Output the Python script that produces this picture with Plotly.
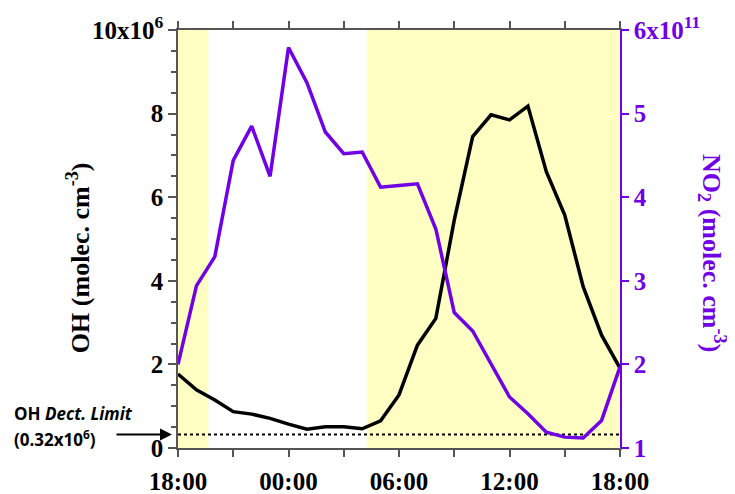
import plotly.graph_objects as go

# Hours since 18:00 (hourly data over 24 h)
hours = list(range(25))
oh = [1.77, 1.39, 1.15, 0.87, 0.81, 0.71, 0.57, 0.45, 0.51, 0.51, 0.46, 0.65,
      1.27, 2.46, 3.10, 5.45, 7.45, 7.97, 7.85, 8.18, 6.61, 5.57, 3.86, 2.70, 1.91]
no2 = [2.00, 2.94, 3.29, 4.44, 4.85, 4.25, 5.79, 5.37, 4.78, 4.52, 4.54, 4.12,
       4.14, 4.16, 3.62, 2.62, 2.40, 2.00, 1.61, 1.41, 1.19, 1.13, 1.12, 1.33, 1.97]
oh_limit = 0.32
daylight = [(0, 1.65), (10.25, 24)]

x_tickvals = [0, 3, 6, 9, 12, 15, 18, 21, 24]
x_ticktext = ["18:00", " ", "00:00", " ", "06:00", " ", "12:00", " ", "18:00"]
y1_tickvals = [0, 2, 4, 6, 8, 10]
y1_ticktext = ["0", "2", "4", "6", "8", "10x10<sup>6</sup>"]
y2_tickvals = [1, 2, 3, 4, 5, 6]
y2_ticktext = ["1", "2", "3", "4", "5", "6x10<sup>11</sup>"]

PURPLE = "#7100E6"
SERIF = "Liberation Serif"
AX = "#555555"


def b(s):
    return "<b>" + s + "</b>"


fig = go.Figure()
fig.add_trace(go.Scatter(x=[0, 24], y=[oh_limit, oh_limit], mode="lines",
                         line=dict(color="black", width=2, dash="dot"), showlegend=False))
fig.add_trace(go.Scatter(x=hours, y=oh, mode="lines",
                         line=dict(color="black", width=3.5), showlegend=False))
fig.add_trace(go.Scatter(x=hours, y=no2, mode="lines", yaxis="y2",
                         line=dict(color=PURPLE, width=3.5), showlegend=False))

for x0, x1 in daylight:
    fig.add_shape(type="rect", xref="x", yref="paper", x0=x0, x1=x1, y0=0, y1=1,
                  fillcolor="#FFFFC4", line=dict(width=0), layer="below")

tickfont = dict(family=SERIF, size=25, color="black")
fig.update_layout(
    width=735, height=494,
    margin=dict(l=170, r=123, t=22, b=54),
    plot_bgcolor="white", paper_bgcolor="white",
    xaxis=dict(range=[0, 24], tickvals=x_tickvals, ticktext=[b(t) for t in x_ticktext],
               ticks="outside", ticklen=7, tickwidth=1.5, tickcolor=AX,
               showline=True, linecolor=AX, linewidth=1.5, mirror="ticks",
               showgrid=False, zeroline=False, tickfont=tickfont,
               ticklabelstandoff=3, automargin=False),
    yaxis=dict(range=[0, 10], tickvals=y1_tickvals, ticktext=[b(t) for t in y1_ticktext],
               ticks="outside", ticklen=8, tickwidth=1.5, tickcolor=AX,
               minor=dict(dtick=0.5, ticks="outside", ticklen=5, tickcolor=AX, tickwidth=1.5),
               showline=True, linecolor=AX, linewidth=1.5,
               showgrid=False, zeroline=False, tickfont=tickfont, automargin=False),
    yaxis2=dict(range=[1, 6], tickvals=y2_tickvals, ticktext=[b(t) for t in y2_ticktext],
                overlaying="y", side="right",
                ticks="outside", ticklen=7, tickwidth=1.5, tickcolor=PURPLE,
                showline=True, linecolor=PURPLE, linewidth=1.5,
                showgrid=False, zeroline=False, automargin=False,
                tickfont=dict(family=SERIF, size=25, color=PURPLE)),
)

fig.add_annotation(text=b("OH (molec. cm<sup>-3</sup>)"), xref="paper", yref="paper",
                   x=-0.226, y=0.4545, textangle=-90, showarrow=False,
                   xanchor="center", yanchor="middle",
                   font=dict(family=SERIF, size=26, color="black"))
fig.add_annotation(text=b("NO<sub>2</sub> (molec. cm<sup>-3</sup>)"), xref="paper", yref="paper",
                   x=1.208, y=0.4665, textangle=90, showarrow=False,
                   xanchor="center", yanchor="middle",
                   font=dict(family=SERIF, size=26, color=PURPLE))

fig.add_annotation(text=b("OH <i>Dect. Limit</i>"), xref="paper", yref="paper",
                   x=-0.3756, y=0.0837, xanchor="left", yanchor="middle", showarrow=False,
                   font=dict(family="Open Sans", size=17, color="black"))
fig.add_annotation(text=b("(0.32x10<sup>6</sup>)"), xref="paper", yref="paper",
                   x=-0.3756, y=0.0239, xanchor="left", yanchor="middle", showarrow=False,
                   font=dict(family="Open Sans", size=17, color="black"))
fig.add_annotation(text="", xref="paper", yref="y", x=-0.0136, y=oh_limit,
                   ax=-57, ay=0, showarrow=True, arrowhead=2, arrowsize=1.2,
                   arrowwidth=2, arrowcolor="black")

fig.write_html("out.html")
